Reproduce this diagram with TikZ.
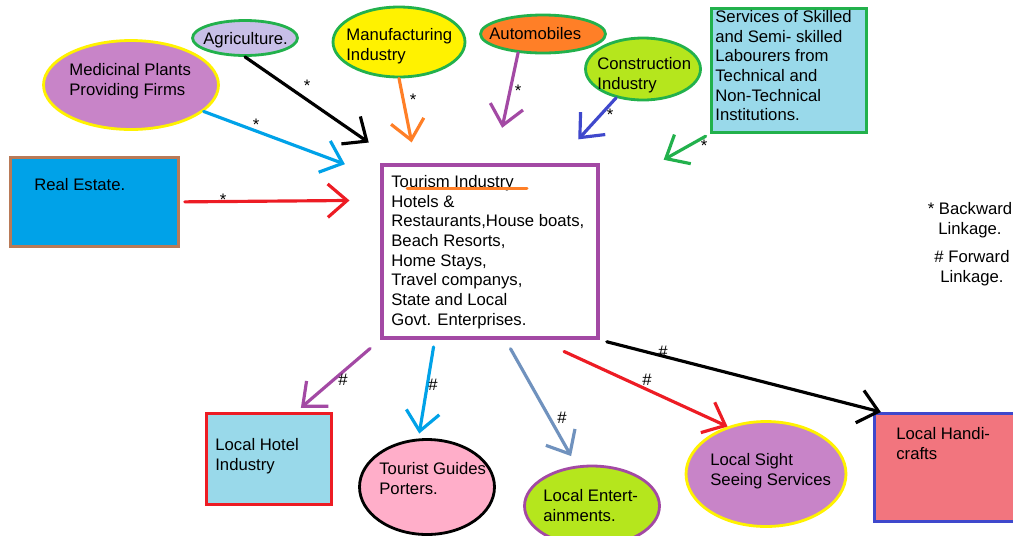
\documentclass[tikz,border=0pt]{standalone}
\usepackage{fontspec}
\setmainfont{Liberation Sans}
\usetikzlibrary{arrows.meta,shapes.geometric}
\definecolor{pgreen}{HTML}{22B14C}
\definecolor{pyellow}{HTML}{FFF200}
\definecolor{plilac}{HTML}{C8BFE7}
\definecolor{porchid}{HTML}{C884C8}
\definecolor{porange}{HTML}{FF7F27}
\definecolor{plime}{HTML}{B5E61D}
\definecolor{psky}{HTML}{99D9EA}
\definecolor{pblue}{HTML}{00A2E8}
\definecolor{pbrown}{HTML}{B97A57}
\definecolor{ppurple}{HTML}{A349A4}
\definecolor{pred}{HTML}{ED1C24}
\definecolor{ppink}{HTML}{FFAEC9}
\definecolor{pindigo}{HTML}{3F48CC}
\definecolor{psteel}{HTML}{7092BE}
\definecolor{prose}{HTML}{F2757E}

\begin{document}
\begin{tikzpicture}[x=0.02cm, y=-0.02cm,
  every node/.style={font=\fontsize{9.5}{11.2}\selectfont, inner sep=0pt},
  oval/.style={ellipse, draw, line width=1.6pt},
  box/.style={rectangle, draw, line width=1.6pt, anchor=north west},
  txt/.style={align=left, anchor=north west},
  lnk/.style={-{Straight Barb[length=11pt,width=19pt]}, line width=1.8pt, line join=round, line cap=round}]
\useasboundingbox (0,0) rectangle (1013,535);
\clip (0,0) rectangle (1013,535);
\fill[white] (0,0) rectangle (1013,535);

% suppliers (backward)
\node[oval, fill=plilac, draw=pgreen, minimum width=2.1cm, minimum height=0.7cm] (agri) at (245,38) {};
\node[oval, fill=porchid, draw=pyellow, minimum width=3.5cm, minimum height=1.78cm] (medi) at (131,85) {};
\node[oval, fill=pyellow, draw=pgreen, minimum width=2.64cm, minimum height=1.4cm] (manu) at (399,42) {};
\node[oval, fill=porange, draw=pgreen, minimum width=2.5cm, minimum height=0.76cm] (auto) at (543,34) {};
\node[oval, fill=plime, draw=pgreen, minimum width=2.3cm, minimum height=1.24cm] (cons) at (643,69) {};
\node[box, fill=psky, draw=pgreen, minimum width=3.1cm, minimum height=2.48cm] (serv) at (710,7) {};
\node[box, fill=pblue, draw=pbrown, minimum width=3.36cm, minimum height=1.78cm] (real) at (9,156) {};

% tourism
\node[box, fill=white, draw=ppurple, line width=2.3pt, minimum width=4.32cm, minimum height=3.46cm] (tour) at (380,163) {};

% receivers (forward)
\node[box, fill=psky, draw=pred, minimum width=2.5cm, minimum height=1.82cm] (hotel) at (205,412) {};
\node[oval, fill=ppink, draw=black, minimum width=2.7cm, minimum height=1.9cm] (guide) at (427,487) {};
\node[oval, fill=plime, draw=ppurple, minimum width=2.7cm, minimum height=1.6cm] (ent) at (592,506) {};
\node[oval, fill=porchid, draw=pyellow, minimum width=3.2cm, minimum height=2.1cm] (sight) at (766,474) {};
\node[box, fill=prose, draw=pindigo, minimum width=3.2cm, minimum height=2.16cm] (handi) at (873,412) {};

% backward linkages
\draw[lnk, black, shorten >=0.72cm] (agri.south) -- (tour.136.5);
\draw[lnk, pblue, shorten >=0.75cm] (medi.-20) -- (tour.146);
\draw[lnk, porange, shorten >=0.42cm] (manu.south) -- (tour.130);
\draw[lnk, ppurple, shorten >=0.72cm] (auto.217) -- (tour.87);
\draw[lnk, pindigo, shorten >=0.64cm] (cons.227) -- (tour.53);
\draw[lnk, pgreen, shorten <=0.1cm, shorten >=1.46cm] (serv.south west) -- (tour.27.6);
\draw[lnk, pred, shorten <=0.1cm, shorten >=0.61cm] (real.east) -- (tour.155);

% forward linkages
\draw[lnk, ppurple, shorten <=0.26cm, shorten >=0.13cm] (tour.south west) -- (hotel.60);
\draw[lnk, pblue, shorten <=0.14cm, shorten >=0.1cm] (tour.-122) -- (guide.100);
\draw[lnk, psteel, shorten <=0.2cm, shorten >=0.22cm] (tour.-80) -- (ent.111);
\draw[lnk, pred, shorten <=0.55cm] (tour.-61) -- (sight.129);
\draw[lnk, black, shorten <=0.14cm] (tour.south east) -- (handi.143.5);

% texts
\node[txt] (agriT) at (203,32) {Agriculture.};
\node[txt] (mediT) at (69,63) {Medicinal Plants\\Providing Firms};
\node[txt] (manuT) at (346,28) {Manufacturing\\Industry};
\node[txt] (autoT) at (489,27) {Automobiles};
\node[txt] (consT) at (597,57) {Construction\\Industry};
\node[txt] (servT) at (715,10) {Services of Skilled\\and Semi- skilled\\Labourers from\\Technical and\\Non-Technical\\Institutions.};
\node[txt] (realT) at (34,178) {Real Estate.};
\node[txt] (tourT) at (391,175) {Tourism Industry\\Hotels \&\\Restaurants,House boats,\\Beach Resorts,\\Home Stays,\\Travel companys,\\State and Local\\Govt. Enterprises.};
\draw[porange, line width=1.7pt, line cap=round] (407,188) -- (527,188);
\node[txt] (hotelT) at (215,438) {Local Hotel\\Industry};
\node[txt] (guideT) at (379,462) {Tourist Guides\\Porters.};
\node[txt] (entT) at (543,489) {Local Entert-\\ainments.};
\node[txt] (sightT) at (710,453) {Local Sight\\Seeing Services};
\node[txt] (handiT) at (896,427) {Local Handi-\\crafts};

% legend
\node[align=center, anchor=north] (backT) at (970,202) {* Backward\\Linkage.};
\node[align=center, anchor=north] (fwdT) at (972,250) {\# Forward\\Linkage.};

% marks
\node (sA) at (307,86) {*};
\node (sB) at (256,125) {*};
\node (sC) at (413,100) {*};
\node (sD) at (223,200) {*};
\node (sE) at (518,91) {*};
\node (sF) at (610,115) {*};
\node (sG) at (704,146) {*};
\node (hA) at (343,380) {\#};
\node (hB) at (433,385) {\#};
\node (hC) at (562,418) {\#};
\node (hD) at (647,380) {\#};
\node (hE) at (663,352) {\#};
\end{tikzpicture}
\end{document}
